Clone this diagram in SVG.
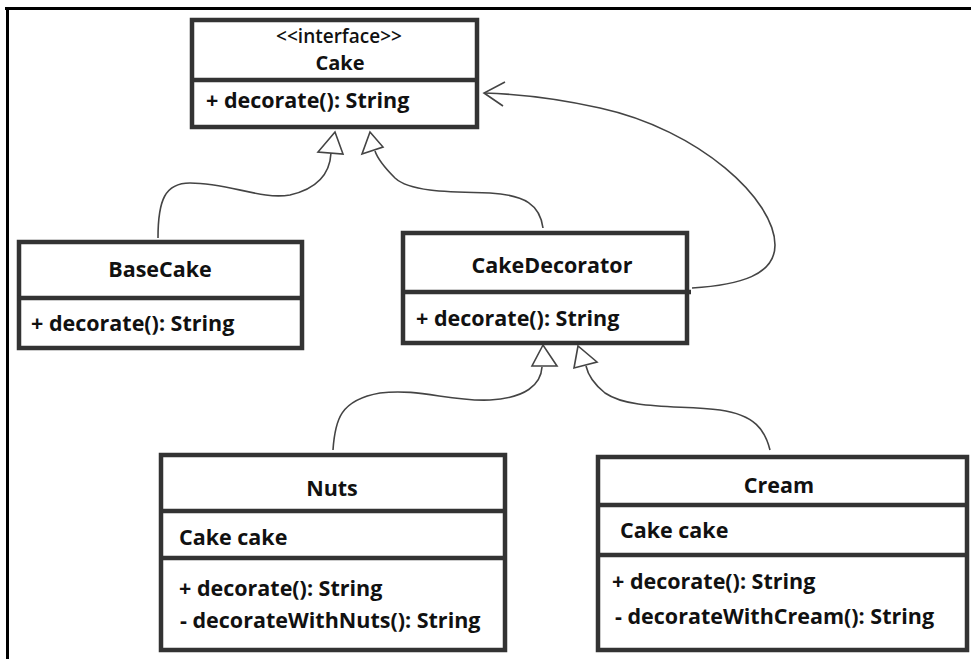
<svg xmlns="http://www.w3.org/2000/svg" width="971" height="659" viewBox="0 0 971 659">
<style>
.box{fill:#fff;stroke:#333;stroke-width:4.5}
.div{stroke:#333;stroke-width:4.5}
.t{font-family:"Open Sans","Liberation Sans",sans-serif;font-weight:700;font-size:21.5px;fill:#111}
.c{text-anchor:middle}
.con{fill:none;stroke:#444;stroke-width:1.6}
.tri{fill:#fff;stroke:#444;stroke-width:1.6;stroke-linejoin:miter}
</style>
<rect width="971" height="659" fill="#fff"/>
<g id="frame">
<line x1="5" y1="8.5" x2="971" y2="8.5" stroke="#000" stroke-width="3"/>
<line x1="7.5" y1="7" x2="7.5" y2="659" stroke="#000" stroke-width="3"/>
</g>
<g id="connectors">
<path class="con" d="M158,238 C158,200 165,183 190,183 C230,183 260,200 290,195 C320,188 330,172 331,153"/>
<polygon class="tri" points="335,132 318,152 343,154"/>
<path class="con" d="M543,228 C540,205 525,195 490,193 C450,192 410,192 395,178 C385,168 378,160 375,151"/>
<polygon class="tri" points="370,132 362,154 383,147"/>
<path class="con" d="M692,288 C740,285 775,275 775,245 C775,200 700,130 600,108 C560,99 520,94 484,93"/>
<path class="con" d="M505,82 L484,93 L503,106"/>
<path class="con" d="M333,450 C335,420 340,400 380,393 C420,388 450,402 490,400 C525,398 541,385 542,367"/>
<polygon class="tri" points="543,345 532,366 557,366"/>
<path class="con" d="M770,450 C765,430 755,415 720,410 C680,405 630,410 605,393 C595,385 588,375 586,366"/>
<polygon class="tri" points="578,346 574,368 597,362"/>
</g>
<g id="cake">
<rect class="box" x="192" y="20" width="285" height="107"/>
<line class="div" x1="190" y1="80" x2="479" y2="80"/>
<text class="t c" x="339" y="43" style="font-weight:600;font-size:19px">&lt;&lt;interface&gt;&gt;</text>
<text class="t c" x="340" y="70" style="font-size:20px">Cake</text>
<text class="t" x="206" y="108">+ decorate(): String</text>
</g>
<g id="basecake">
<rect class="box" x="19" y="242" width="283" height="106"/>
<line class="div" x1="17" y1="298" x2="304" y2="298"/>
<text class="t c" x="160" y="277">BaseCake</text>
<text class="t" x="31" y="331">+ decorate(): String</text>
</g>
<g id="cakedecorator">
<rect class="box" x="403" y="233" width="284" height="110"/>
<line class="div" x1="401" y1="292" x2="691" y2="292"/>
<text class="t c" x="552" y="273">CakeDecorator</text>
<text class="t" x="416" y="326">+ decorate(): String</text>
</g>
<g id="nuts">
<rect class="box" x="161" y="455" width="344" height="195"/>
<line class="div" x1="161" y1="511" x2="505" y2="511"/>
<line class="div" x1="161" y1="558" x2="505" y2="558"/>
<text class="t c" x="332" y="496">Nuts</text>
<text class="t" x="179" y="545">Cake cake</text>
<text class="t" x="179" y="596">+ decorate(): String</text>
<text class="t" x="180" y="628">- decorateWithNuts(): String</text>
</g>
<g id="cream">
<rect class="box" x="598" y="457" width="369" height="193"/>
<line class="div" x1="598" y1="505" x2="967" y2="505"/>
<line class="div" x1="598" y1="555" x2="967" y2="555"/>
<text class="t c" x="779" y="493">Cream</text>
<text class="t" x="620" y="538">Cake cake</text>
<text class="t" x="612" y="589">+ decorate(): String</text>
<text class="t" x="615" y="624">- decorateWithCream(): String</text>
</g>
</svg>
